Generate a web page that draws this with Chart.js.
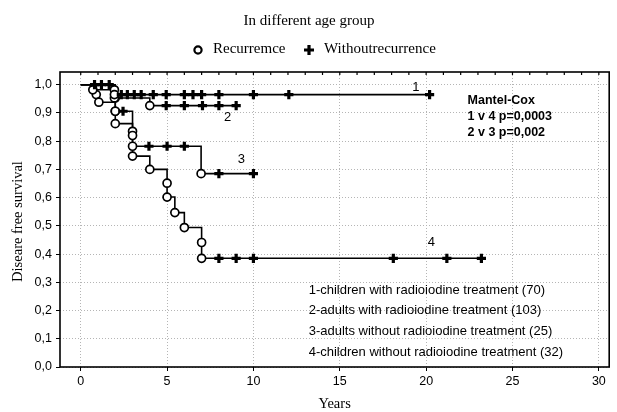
<!DOCTYPE html>
<html>
<head>
<meta charset="utf-8">
<script src="https://cdn.jsdelivr.net/npm/chart.js@4.4.0/dist/chart.umd.min.js"></script>
<style>
  html, body { margin: 0; background: #fff; }
  #wrap { width: 617px; height: 412px; }
</style>
</head>
<body>
<div id="wrap"><canvas id="km"></canvas></div>
<script>
const xTicks = [0, 5, 10, 15, 20, 25, 30];
const yTicks = [0, 0.1, 0.2, 0.3, 0.4, 0.5, 0.6, 0.7, 0.8, 0.9, 1.0];

// 1 - children with radioiodine treatment (70)
const g1Years = [0, 0.8, 1.2, 1.65, 1.95, 1.95, 2.35, 2.7, 3.1, 3.5, 4.2, 4.95, 6.0, 6.5, 7.0, 8.0, 10.0, 12.05, 20.2];
const g1Surv  = [1, 1, 1, 1, 0.982, 0.965, 0.965, 0.965, 0.965, 0.965, 0.965, 0.965, 0.965, 0.965, 0.965, 0.965, 0.965, 0.965, 0.965];
const g1Mark  = ['', '+', '+', '+', 'o', 'o', '+', '+', '+', '+', '+', '+', '+', '+', '+', '+', '+', '+', '+'];

// 2 - adults with radioiodine treatment (103)
const g2Years = [0, 0.7, 1.95, 4.0, 4.95, 6.0, 7.05, 8.0, 9.0];
const g2Surv  = [1, 0.982, 0.953, 0.926, 0.926, 0.926, 0.926, 0.926, 0.926];
const g2Mark  = ['', 'o', 'o', 'o', '+', '+', '+', '+', '+'];

// 3 - adults without radioiodine treatment (25)
const g3Years = [0, 2.0, 2.0, 2.45, 3.0, 3.0, 3.0, 3.95, 5.0, 6.0, 6.97, 8.0, 10.0];
const g3Surv  = [1, 0.953, 0.906, 0.906, 0.835, 0.82, 0.782, 0.782, 0.782, 0.782, 0.685, 0.685, 0.685];
const g3Mark  = ['', 'o', 'o', '+', 'o', 'o', 'o', '+', '+', '+', 'o', '+', '+'];

// 4 - children without radioiodine treatment (32)
const g4Years = [0, 0.9, 1.05, 2.0, 2.0, 3.0, 4.0, 5.0, 5.0, 5.45, 6.0, 7.0, 7.0, 8.0, 9.0, 10.0, 18.1, 21.2, 23.2];
const g4Surv  = [1, 0.965, 0.938, 0.906, 0.862, 0.747, 0.70, 0.651, 0.602, 0.547, 0.494, 0.441, 0.385, 0.385, 0.385, 0.385, 0.385, 0.385, 0.385];
const g4Mark  = ['', 'o', 'o', 'o', 'o', 'o', 'o', 'o', 'o', 'o', 'o', 'o', 'o', '+', '+', '+', '+', '+', '+'];

const groupNames = [
  '1-children with radioiodine treatment (70)',
  '2-adults with radioiodine treatment (103)',
  '3-adults without radioiodine treatment (25)',
  '4-children without radioiodine treatment (32)'
];

function curve(years, surv, marks) {
  return {
    data: years.map((x, i) => ({ x: x, y: surv[i] })),
    showLine: true,
    stepped: 'before',
    borderColor: '#000',
    borderWidth: 1.6,
    pointStyle: (c) => { const m = marks[c.dataIndex]; return m === 'o' ? 'circle' : (m === '+' ? 'cross' : false); },
    pointRadius: (c) => { const m = marks[c.dataIndex]; return m === 'o' ? 4 : (m === '+' ? 4.6 : 0); },
    pointBorderWidth: (c) => marks[c.dataIndex] === '+' ? 3.2 : 1.7,
    pointBackgroundColor: '#fff',
    pointBorderColor: '#000',
    pointHoverRadius: 0
  };
}

const serif = '"Liberation Serif", "Times New Roman", serif';
const sans = '"Liberation Sans", Arial, sans-serif';

const decor = {
  id: 'decor',
  afterDraw(chart) {
    const { ctx, chartArea: a, scales: { x, y } } = chart;
    ctx.save();
    // frame
    ctx.strokeStyle = '#000';
    ctx.lineWidth = 1.6;
    ctx.strokeRect(a.left, a.top, a.right - a.left, a.bottom - a.top);
    // minor ticks along the top
    ctx.lineWidth = 1.2;
    for (let v = 0; v <= 30; v++) {
      const px = x.getPixelForValue(v);
      ctx.beginPath(); ctx.moveTo(px, a.top); ctx.lineTo(px, a.top + 3); ctx.stroke();
    }
    ctx.fillStyle = '#000';
    // title and legend
    ctx.font = '15px ' + serif;
    ctx.textAlign = 'center';
    ctx.textBaseline = 'middle';
    ctx.fillText('In different age group', 309, 21);
    ctx.textAlign = 'left';
    ctx.beginPath(); ctx.lineWidth = 2.2; ctx.arc(198, 50, 3.6, 0, Math.PI * 2); ctx.stroke();
    ctx.fillText('Recurremce', 213, 49);
    ctx.lineWidth = 3.2;
    ctx.beginPath(); ctx.moveTo(304, 50); ctx.lineTo(314, 50); ctx.moveTo(309, 45); ctx.lineTo(309, 55); ctx.stroke();
    ctx.fillText('Withoutrecurrence', 324, 49);
    // axis titles
    ctx.font = '14.5px ' + serif;
    ctx.textAlign = 'center';
    ctx.fillText('Years', (a.left + a.right) / 2, 404);
    ctx.save();
    ctx.translate(18, (a.top + a.bottom) / 2 + 2);
    ctx.rotate(-Math.PI / 2);
    ctx.fillText('Diseare free survival', 0, 0);
    ctx.restore();
    // curve numbers
    ctx.font = '13px ' + sans;
    ctx.fillText('1', x.getPixelForValue(19.4), y.getPixelForValue(0.99));
    ctx.fillText('2', x.getPixelForValue(8.5), y.getPixelForValue(0.885));
    ctx.fillText('3', x.getPixelForValue(9.3), y.getPixelForValue(0.735));
    ctx.fillText('4', x.getPixelForValue(20.3), y.getPixelForValue(0.44));
    // Mantel-Cox
    ctx.textAlign = 'left';
    ctx.font = 'bold 12.5px ' + sans;
    const mx = x.getPixelForValue(22.4);
    ctx.fillText('Mantel-Cox', mx, y.getPixelForValue(0.945));
    ctx.fillText('1 v 4 p=0,0003', mx, y.getPixelForValue(0.887));
    ctx.fillText('2 v 3 p=0,002', mx, y.getPixelForValue(0.829));
    // group legend
    ctx.font = '13px ' + sans;
    const gx = x.getPixelForValue(13.2);
    groupNames.forEach((t, i) => ctx.fillText(t, gx, y.getPixelForValue(0.272 - i * 0.073)));
    ctx.restore();
  }
};

new Chart(document.getElementById('km'), {
  type: 'scatter',
  data: {
    datasets: [
      curve(g1Years, g1Surv, g1Mark),
      curve(g2Years, g2Surv, g2Mark),
      curve(g3Years, g3Surv, g3Mark),
      curve(g4Years, g4Surv, g4Mark)
    ]
  },
  options: {
    responsive: true,
    maintainAspectRatio: false,
    animation: false,
    layout: { padding: { top: 72, right: 5, left: 0, bottom: 0 } },
    plugins: { legend: { display: false }, tooltip: { enabled: false } },
    scales: {
      x: {
        type: 'linear',
        min: -1.2,
        max: 30.6,
        afterBuildTicks: (s) => { s.ticks = xTicks.map(v => ({ value: v })); },
        afterFit: (s) => { s.height = 45; },
        grid: { color: '#b5b5b5', tickColor: '#000', tickLength: 4, lineWidth: 1 },
        border: { display: false, dash: [1, 2] },
        ticks: { color: '#000', font: { family: sans, size: 12.5 }, padding: 3 }
      },
      y: {
        min: 0,
        max: 1.045,
        afterBuildTicks: (s) => { s.ticks = yTicks.map(v => ({ value: v })); },
        afterFit: (s) => { s.width = 60; },
        grid: { color: '#b5b5b5', tickColor: '#000', tickLength: 4, lineWidth: 1 },
        border: { display: false, dash: [1, 2] },
        ticks: {
          color: '#000',
          font: { family: sans, size: 12.5 },
          padding: 4,
          callback: (v) => v.toFixed(1).replace('.', ',')
        }
      }
    }
  },
  plugins: [decor]
});
</script>
</body>
</html>
